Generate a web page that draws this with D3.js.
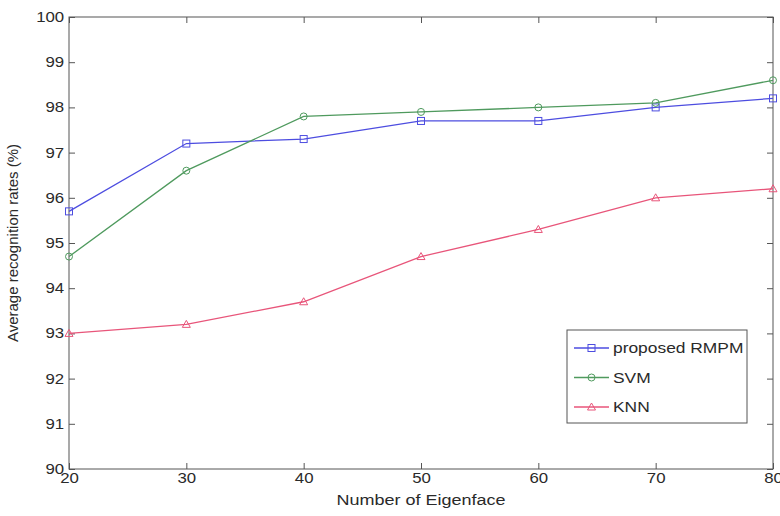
<!DOCTYPE html>
<html><head><meta charset="utf-8">
<script src="https://cdn.jsdelivr.net/npm/d3@7"></script>
<style>body{margin:0;background:#fff}svg{display:block}text{font-family:"Liberation Sans",Arial,sans-serif;fill:#2a2a2a}</style>
</head><body>
<svg id="c" width="780" height="516"></svg>
<script>
const eigenfaces = [20, 30, 40, 50, 60, 70, 80];
const rmpm = [95.7, 97.2, 97.3, 97.7, 97.7, 98.0, 98.2];
const svm  = [94.7, 96.6, 97.8, 97.9, 98.0, 98.1, 98.6];
const knn  = [93.0, 93.2, 93.7, 94.7, 95.3, 96.0, 96.2];
const yTicks = [90, 91, 92, 93, 94, 95, 96, 97, 98, 99, 100];
const xTicks = [20, 30, 40, 50, 60, 70, 80];
const seriesNames = ["proposed RMPM", "SVM", "KNN"];
const xLabel = "Number of Eigenface";
const yLabel = "Average recognition rates (%)";

const series = [
  {name: seriesNames[0], values: rmpm, color: "#4d4de0", marker: "square"},
  {name: seriesNames[1], values: svm,  color: "#4f9a5e", marker: "circle"},
  {name: seriesNames[2], values: knn,  color: "#e8557a", marker: "triangle"}
];

const SX = 1.2; // horizontal stretch of text seen in the reference
const L = 69, R = 773, T = 17, B = 469;
const svg = d3.select("#c");
const x = d3.scaleLinear().domain([20, 80]).range([L, R]);
const y = d3.scaleLinear().domain([90, 100]).range([B, T]);
const axisColor = "#555";

svg.append("rect").attr("x", L).attr("y", T).attr("width", R - L).attr("height", B - T)
  .attr("fill", "none").attr("stroke", axisColor).attr("stroke-width", 1);

function styleAxis(g){
  g.select(".domain").remove();
  g.selectAll("line").attr("stroke", axisColor);
  g.selectAll("text").attr("fill", "#2a2a2a").style("font-size", "14px")
   .style("font-family", "Liberation Sans, Arial, sans-serif").attr("transform", `scale(${SX},1)`);
}

svg.append("g").attr("transform", `translate(0,${B})`)
  .call(d3.axisBottom(x).tickValues(xTicks).tickSize(-6).tickPadding(4).tickFormat(d3.format("d"))).call(styleAxis);
svg.append("g").attr("transform", `translate(0,${T})`)
  .call(d3.axisTop(x).tickValues(xTicks).tickSize(-6).tickFormat("")).call(styleAxis);
svg.append("g").attr("transform", `translate(${L},0)`)
  .call(d3.axisLeft(y).tickValues(yTicks).tickSize(-6).tickPadding(4).tickFormat(d3.format("d"))).call(styleAxis);
svg.append("g").attr("transform", `translate(${R},0)`)
  .call(d3.axisRight(y).tickValues(yTicks).tickSize(-6).tickFormat("")).call(styleAxis);

const line = d3.line().x((d, i) => x(eigenfaces[i])).y(d => y(d));

function drawMarker(g, type, cx, cy, color){
  if (type === "square") g.append("rect").attr("x", cx - 3.5).attr("y", cy - 3.5).attr("width", 7).attr("height", 7)
    .attr("fill", "none").attr("stroke", color).attr("stroke-width", 1);
  else if (type === "circle") g.append("circle").attr("cx", cx).attr("cy", cy).attr("r", 3.5)
    .attr("fill", "none").attr("stroke", color).attr("stroke-width", 1);
  else g.append("path").attr("d", `M${cx},${cy-4}L${cx+4},${cy+3}L${cx-4},${cy+3}Z`)
    .attr("fill", "none").attr("stroke", color).attr("stroke-width", 1);
}

series.forEach(s => {
  svg.append("path").datum(s.values).attr("d", line).attr("fill", "none")
    .attr("stroke", s.color).attr("stroke-width", 1.3);
  const g = svg.append("g");
  s.values.forEach((v, i) => drawMarker(g, s.marker, x(eigenfaces[i]), y(v), s.color));
});

const lg = svg.append("g");
lg.append("rect").attr("x", 567).attr("y", 330).attr("width", 180).attr("height", 93)
  .attr("fill", "#fff").attr("stroke", axisColor).attr("stroke-width", 1);
series.forEach((s, i) => {
  const ly = 348 + i * 29.5;
  lg.append("line").attr("x1", 574).attr("x2", 609).attr("y1", ly).attr("y2", ly).attr("stroke", s.color).attr("stroke-width", 1.3);
  drawMarker(lg, s.marker, 591.5, ly, s.color);
  lg.append("text").attr("transform", `translate(613,${ly + 5}) scale(${SX},1)`)
    .style("font-size", "14.5px").text(s.name);
});

svg.append("text").attr("transform", `translate(${(L + R) / 2},505) scale(${SX},1)`).attr("text-anchor", "middle")
  .style("font-size", "15px").text(xLabel);
svg.append("text").attr("transform", `translate(18,${(T + B) / 2}) rotate(-90)`).attr("text-anchor", "middle")
  .style("font-size", "15px").text(yLabel);
</script>
</body></html>
